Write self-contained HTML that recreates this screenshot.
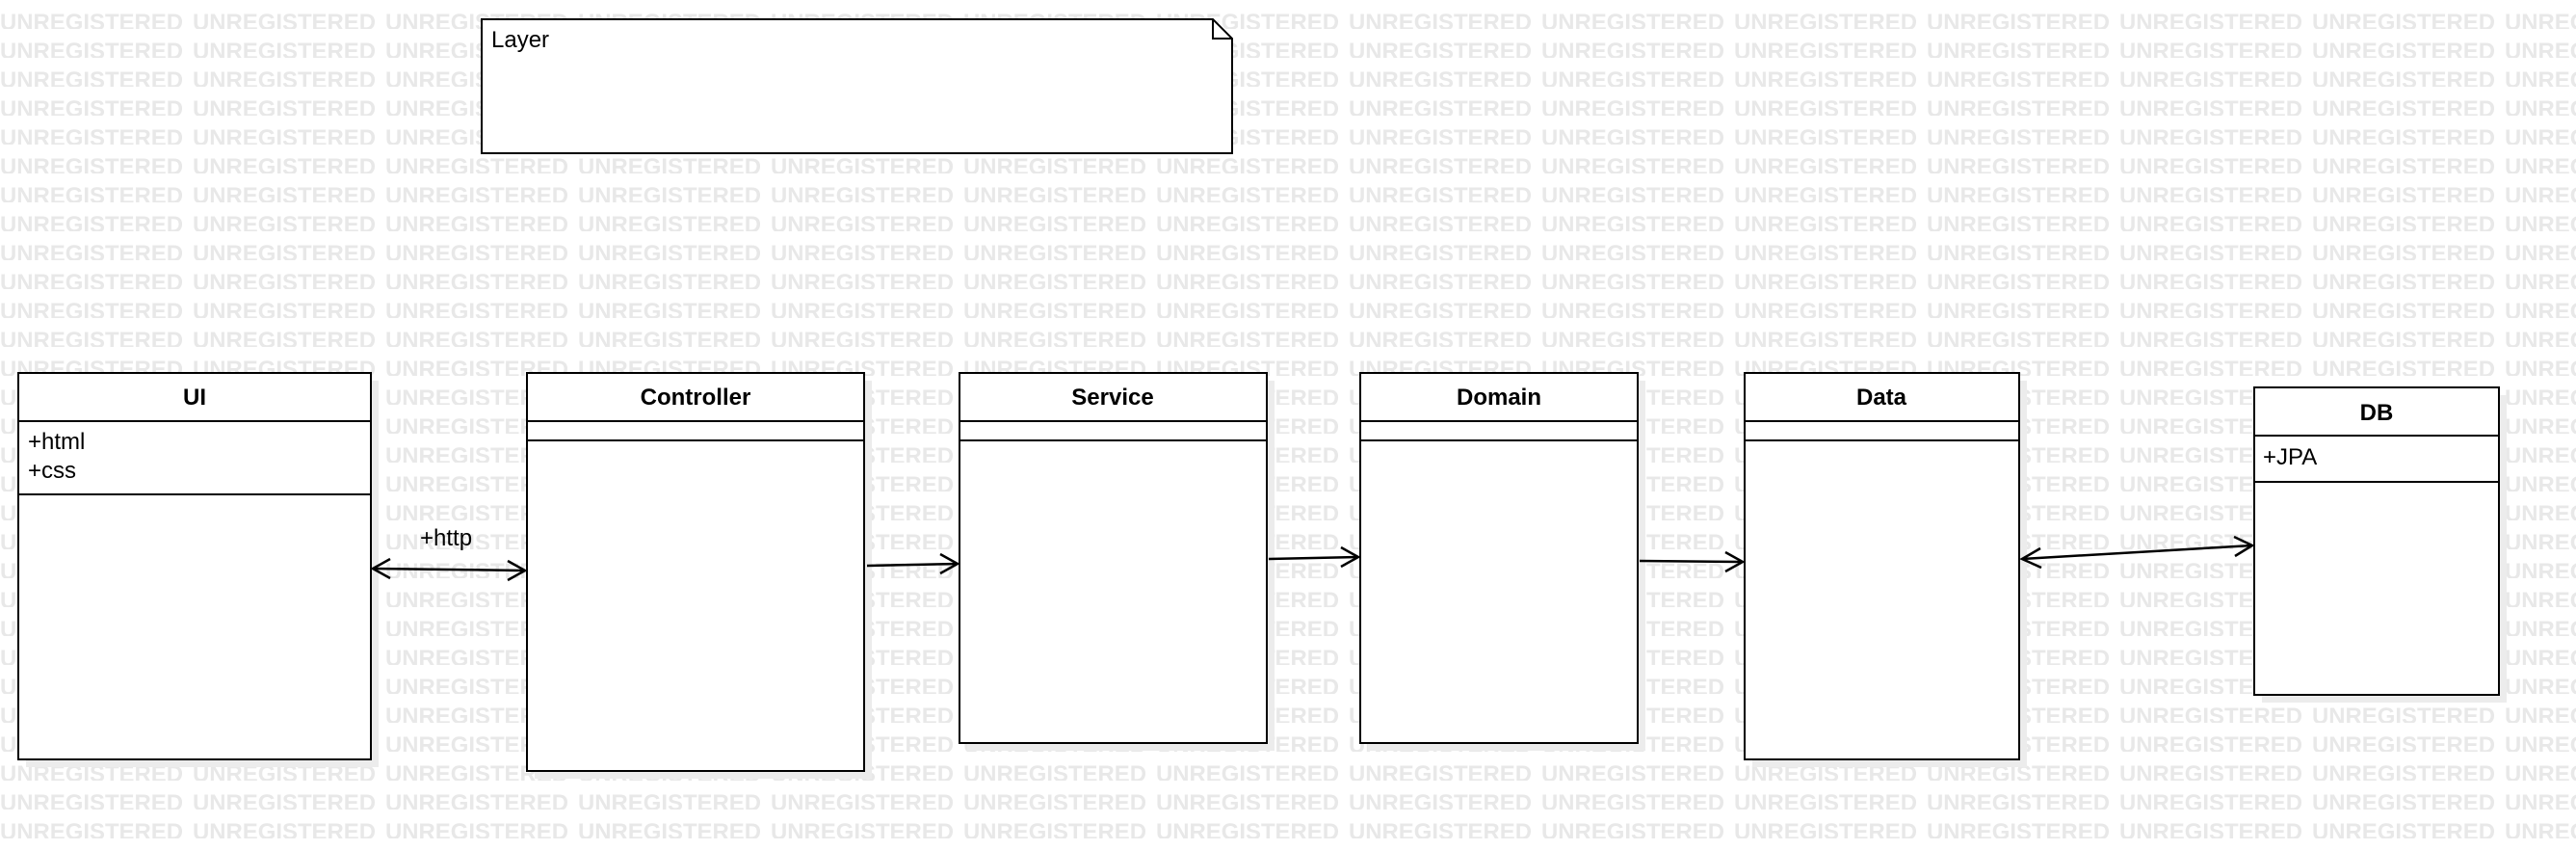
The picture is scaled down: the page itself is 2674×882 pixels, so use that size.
<!DOCTYPE html>
<html><head><meta charset="utf-8"><style>
html,body{margin:0;padding:0;background:#fff;}
svg{display:block;}
</style></head><body>
<svg width="2674" height="882" viewBox="0 0 2674 882" xmlns="http://www.w3.org/2000/svg" font-family="Liberation Sans, sans-serif">
<defs>
<pattern id="wm" x="0" y="0" width="200" height="30" patternUnits="userSpaceOnUse">
<text x="0" y="31" font-size="24" font-weight="bold" fill="#e8e8e8" textLength="190" lengthAdjust="spacingAndGlyphs">UNREGISTERED</text>
</pattern>
</defs>
<rect x="0" y="0" width="2674" height="882" fill="url(#wm)"/>
<g fill="#ececec">
<rect x="27" y="395" width="366" height="401"/>
<rect x="555" y="395" width="350" height="413"/>
<rect x="1004" y="395" width="319" height="384"/>
<rect x="1420" y="395" width="288" height="384"/>
<rect x="1819" y="395" width="285" height="401"/>
<rect x="2348" y="410" width="254" height="319"/>
</g>
<g fill="#fff" stroke="#000" stroke-width="2">
<path d="M500 20 H1259 L1279 40 V159 H500 Z"/>
<path d="M1259 20 V40 H1279" fill="none"/>
<rect x="19" y="387" width="366" height="401"/>
<line x1="19" y1="437" x2="385" y2="437"/><line x1="19" y1="513" x2="385" y2="513"/>
<rect x="547" y="387" width="350" height="413"/>
<line x1="547" y1="437" x2="897" y2="437"/><line x1="547" y1="457" x2="897" y2="457"/>
<rect x="996" y="387" width="319" height="384"/>
<line x1="996" y1="437" x2="1315" y2="437"/><line x1="996" y1="457" x2="1315" y2="457"/>
<rect x="1412" y="387" width="288" height="384"/>
<line x1="1412" y1="437" x2="1700" y2="437"/><line x1="1412" y1="457" x2="1700" y2="457"/>
<rect x="1811" y="387" width="285" height="401"/>
<line x1="1811" y1="437" x2="2096" y2="437"/><line x1="1811" y1="457" x2="2096" y2="457"/>
<rect x="2340" y="402" width="254" height="319"/>
<line x1="2340" y1="452" x2="2594" y2="452"/><line x1="2340" y1="500" x2="2594" y2="500"/>
</g>
<g font-size="24" fill="#000">
<text x="510" y="49">Layer</text>
<g font-weight="bold" text-anchor="middle">
<text x="202" y="420">UI</text>
<text x="722" y="420">Controller</text>
<text x="1155" y="420">Service</text>
<text x="1556" y="420">Domain</text>
<text x="1953" y="420">Data</text>
<text x="2467" y="436">DB</text>
</g>
<text x="29" y="466">+html</text>
<text x="29" y="496">+css</text>
<text x="2349" y="482">+JPA</text>
<text x="436" y="566">+http</text>
</g>
<g stroke="#000" stroke-width="2.5" fill="none">
<line x1="387" y1="590" x2="545" y2="592"/>
<polyline points="405,580 387,590 405,600"/>
<polyline points="527,582 545,592 527,602"/>
<line x1="900" y1="587" x2="994" y2="585"/>
<polyline points="976,575 994,585 976,595"/>
<line x1="1317" y1="580" x2="1410" y2="578"/>
<polyline points="1392,568 1410,578 1392,588"/>
<line x1="1702" y1="582" x2="1809" y2="583"/>
<polyline points="1791,573 1809,583 1791,593"/>
<line x1="2099" y1="580" x2="2338" y2="566"/>
<polyline points="2118,569 2099,580 2119,589"/>
<polyline points="2319,557 2338,566 2320,577"/>
</g>
</svg>
</body></html>
